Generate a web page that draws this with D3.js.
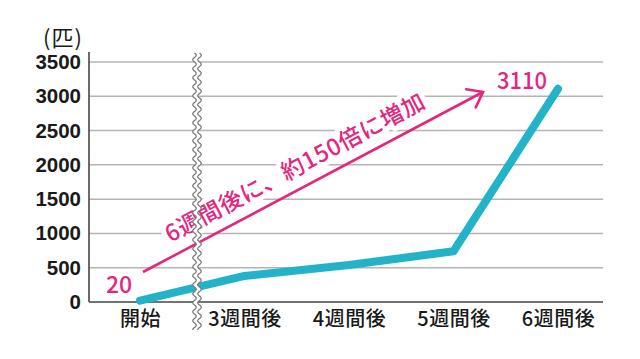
<!DOCTYPE html>
<html>
<head>
<meta charset="utf-8">
<script src="https://cdn.jsdelivr.net/npm/d3@7"></script>
<style>
  html, body { margin: 0; padding: 0; background: #fff; }
  svg { display: block; }
</style>
</head>
<body>
<svg id="chart" width="640" height="359"></svg>
<script>
// ---- data ----
const categories = ["開始", "3週間後", "4週間後", "5週間後", "6週間後"];
const values = [20, 380, 540, 740, 3110];
const yTicks = [0, 500, 1000, 1500, 2000, 2500, 3000, 3500];
const unitLabel = "(匹)";
const startLabel = "20";
const endLabel = "3110";
const annotation = "6週間後に、約150倍に増加";

// ---- layout ----
const svg = d3.select("#chart");
const pink = "#e4267f";
const cyan = "#22b3c8";
const cjk = "'Noto Sans CJK JP', 'Noto Sans', sans-serif";
const num = "'Liberation Sans', Arial, sans-serif";

const y = d3.scaleLinear().domain([0, 3500]).range([302, 62]);
const x = d3.scalePoint().domain(categories).range([140, 558]);
const axisLeft = 89, axisRight = 603;

// gridlines
svg.append("g").selectAll("line")
  .data(yTicks.filter(d => d > 0))
  .join("line")
  .attr("x1", axisLeft).attr("x2", axisRight)
  .attr("y1", d => y(d)).attr("y2", d => y(d))
  .attr("stroke", "#b4b4b4").attr("stroke-width", 1.5);

// y axis (labels via d3 axis)
const yAxis = svg.append("g")
  .attr("transform", `translate(${axisLeft},0)`)
  .call(d3.axisLeft(y).tickValues(yTicks).tickSize(0).tickPadding(8).tickFormat(d3.format("d")));
yAxis.select(".domain").remove();
yAxis.selectAll("text")
  .attr("font-family", num).attr("font-weight", "bold")
  .attr("font-size", 20.5).attr("fill", "#1a1a1a");

// axis lines
svg.append("line").attr("x1", axisLeft).attr("x2", axisLeft)
  .attr("y1", 52).attr("y2", y(0))
  .attr("stroke", "#444").attr("stroke-width", 1.6);
svg.append("line").attr("x1", axisLeft).attr("x2", axisRight)
  .attr("y1", y(0)).attr("y2", y(0))
  .attr("stroke", "#444").attr("stroke-width", 1.6);

// x axis labels
const xAxis = svg.append("g")
  .attr("transform", `translate(0,${y(0)})`)
  .call(d3.axisBottom(x).tickSize(0).tickPadding(10));
xAxis.select(".domain").remove();
xAxis.selectAll("text")
  .attr("font-family", cjk).attr("font-weight", 500)
  .attr("font-size", 20).attr("fill", "#1a1a1a")
  .attr("letter-spacing", 0.5)
  .attr("dy", "0.72em");

// unit label
svg.append("text").attr("x", 63).attr("y", 46)
  .attr("text-anchor", "middle")
  .attr("font-family", cjk).attr("font-size", 22).attr("fill", "#1a1a1a")
  .attr("letter-spacing", 1)
  .text(unitLabel);

// annotation arrow + text
const A = [143, 272], B = [483, 92];
const ang = Math.atan2(B[1] - A[1], B[0] - A[0]);
const len = Math.hypot(B[0] - A[0], B[1] - A[1]);
const ann = svg.append("g")
  .attr("transform", `translate(${A[0]},${A[1]}) rotate(${ang * 180 / Math.PI})`);
const annText = (sel) => sel
  .attr("x", 38).attr("y", -13)
  .attr("font-family", cjk).attr("font-size", 23).attr("font-weight", 500)
  .attr("textLength", 290).attr("lengthAdjust", "spacing")
  .text(annotation);
ann.append("text").call(annText)
  .attr("fill", "none")
  .attr("stroke", "#fff").attr("stroke-width", 10)
  .attr("stroke-linejoin", "round");
ann.append("text").call(annText)
  .attr("fill", pink);
ann.append("line").attr("x1", 0).attr("y1", 0).attr("x2", len).attr("y2", 0)
  .attr("stroke", pink).attr("stroke-width", 2.6);
const hl = 17, ha = 37 * Math.PI / 180;
ann.append("path")
  .attr("d", `M${len - hl * Math.cos(ha)},${-hl * Math.sin(ha)} L${len},0 L${len - hl * Math.cos(ha)},${hl * Math.sin(ha)}`)
  .attr("fill", "none").attr("stroke", pink).attr("stroke-width", 2.6)
  .attr("stroke-linecap", "round").attr("stroke-linejoin", "miter");

// data line
const line = d3.line().x((d, i) => x(categories[i])).y(d => y(d));
svg.append("path").datum(values)
  .attr("d", line)
  .attr("fill", "none").attr("stroke", cyan).attr("stroke-width", 8)
  .attr("stroke-linecap", "round").attr("stroke-linejoin", "round");

// value labels
svg.append("text").attr("x", 119).attr("y", 293)
  .attr("text-anchor", "middle")
  .attr("font-family", cjk).attr("font-size", 23).attr("font-weight", 500)
  .attr("fill", pink).text(startLabel);
svg.append("text").attr("x", 522).attr("y", 89)
  .attr("text-anchor", "middle")
  .attr("font-family", cjk).attr("font-size", 24).attr("font-weight", 500)
  .attr("fill", pink)
  .attr("textLength", 50).attr("lengthAdjust", "spacingAndGlyphs")
  .text(endLabel);

// axis break (wavy double line)
const bx1 = 194.5, bx2 = 199.5, by0 = 53, by1 = 330, amp = 1.8, per = 9;
const ys = d3.range(by0, by1 + 0.01, 0.5);
const wave = (x0) => ys.map(v => [x0 + amp * Math.sin(2 * Math.PI * (v - by0) / per), v]);
const w1 = wave(bx1), w2 = wave(bx2);
const gen = d3.line();
svg.append("path")
  .attr("d", gen(w1.concat(w2.slice().reverse())) + "Z")
  .attr("fill", "#fff").attr("stroke", "none");
svg.append("path").attr("d", gen(w1)).attr("fill", "none")
  .attr("stroke", "#7a7a7a").attr("stroke-width", 1.2);
svg.append("path").attr("d", gen(w2)).attr("fill", "none")
  .attr("stroke", "#7a7a7a").attr("stroke-width", 1.2);
</script>
</body>
</html>
